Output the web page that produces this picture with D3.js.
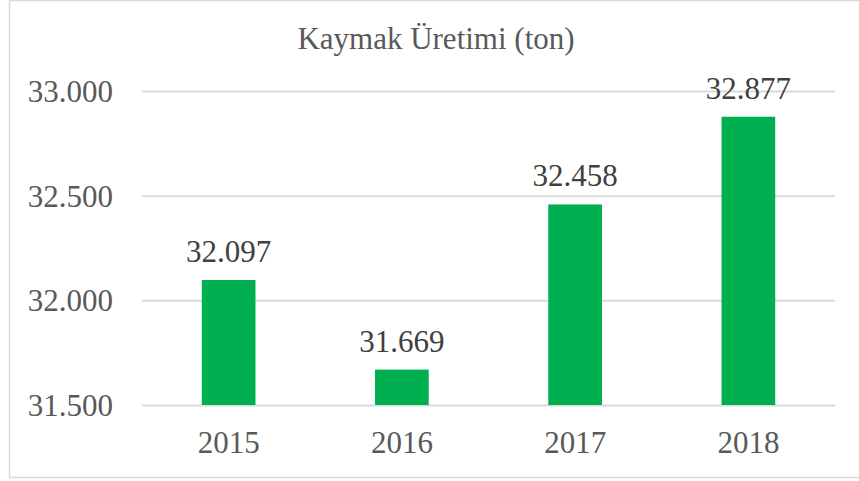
<!DOCTYPE html>
<html>
<head>
<meta charset="utf-8">
<script src="https://cdn.jsdelivr.net/npm/d3@7"></script>
<style>
html,body{margin:0;padding:0;background:#fff;}
svg{display:block;}
svg text{font-family:"Liberation Serif","Times New Roman",Times,"DejaVu Serif",serif !important;}
</style>
</head>
<body>
<div id="chart"></div>
<script>
const title = "Kaymak Üretimi (ton)";
const categories = ["2015", "2016", "2017", "2018"];
const values = [32097, 31669, 32458, 32877];
const yTicks = [31500, 32000, 32500, 33000];

const W = 859, H = 481;
const margin = {left: 142, right: 24, top: 91, bottom: 76};
const fmt = v => d3.format(",.0f")(v).replace(/,/g, ".");

const svg = d3.select("#chart").append("svg").attr("width", W).attr("height", H);

svg.append("rect").attr("x", 9.5).attr("y", 0.5).attr("width", 860).attr("height", 477)
  .attr("fill", "#fff").attr("stroke", "#d9d9d9").attr("stroke-width", 1.5);

const x = d3.scaleBand().domain(categories).range([margin.left, W - margin.right])
  .paddingInner(0.69).paddingOuter(0.345);
const y = d3.scaleLinear().domain([31500, 33000]).range([H - margin.bottom, margin.top]);

svg.append("text").attr("x", 436).attr("y", 49).attr("text-anchor", "middle")
  .attr("font-size", 31).attr("fill", "#595959").text(title);

const yAxis = svg.append("g").attr("transform", `translate(${margin.left},0)`)
  .call(d3.axisLeft(y).tickValues(yTicks).tickFormat(fmt).tickSize(-(W - margin.right - margin.left)).tickPadding(29));
yAxis.select(".domain").remove();
yAxis.selectAll(".tick line").attr("stroke", "#d9d9d9").attr("stroke-width", 2);
yAxis.selectAll(".tick text").attr("font-size", 31).attr("fill", "#595959").attr("dy", "0.34em");

svg.append("g").selectAll("rect").data(categories).join("rect")
  .attr("x", d => x(d)).attr("width", x.bandwidth())
  .attr("y", (d, i) => y(values[i])).attr("height", (d, i) => y(31500) - y(values[i]))
  .attr("fill", "#00b050");

svg.append("g").selectAll("text").data(categories).join("text")
  .attr("x", d => x(d) + x.bandwidth() / 2)
  .attr("y", (d, i) => y(values[i]) - 18)
  .attr("text-anchor", "middle").attr("font-size", 31).attr("fill", "#404040")
  .text((d, i) => fmt(values[i]));

const xAxis = svg.append("g").attr("transform", `translate(0,${H - margin.bottom})`)
  .call(d3.axisBottom(x).tickSize(0).tickPadding(26));
xAxis.select(".domain").remove();
xAxis.selectAll(".tick text").attr("font-size", 31).attr("fill", "#595959").attr("dy", "0.71em");
</script>
</body>
</html>
